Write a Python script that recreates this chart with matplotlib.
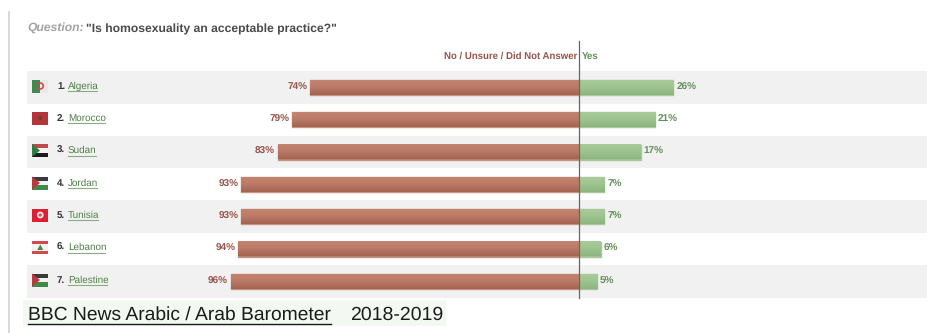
import numpy as np
import matplotlib
matplotlib.use("Agg")
import matplotlib.pyplot as plt
from matplotlib.colors import LinearSegmentedColormap
from matplotlib.patches import Rectangle, Circle, Polygon

W, H = 928, 333

countries = ["Algeria", "Morocco", "Sudan", "Jordan", "Tunisia", "Lebanon", "Palestine"]
no_values = [74, 79, 83, 93, 93, 94, 96]
yes_values = [26, 21, 17, 7, 7, 6, 5]
question_lead = "Question:"
question_text = '"Is homosexuality an acceptable practice?"'
no_header = "No / Unsure / Did Not Answer"
yes_header = "Yes"
source_text = "BBC News Arabic / Arab Barometer"
years_text = "2018-2019"

plt.rcParams["font.family"] = ["Liberation Sans", "DejaVu Sans"]
plt.rcParams["text.hinting"] = "no_hinting"

RED_DARK, GREEN_DARK = "#96544a", "#648f58"
red_map = LinearSegmentedColormap.from_list("r", ["#c4846f", "#b97a68", "#a5634f"])
green_map = LinearSegmentedColormap.from_list("g", ["#a8cb9a", "#9dc48f", "#8cb57e"])
ramp = np.linspace(0, 1, 32).reshape(-1, 1)

fig = plt.figure(figsize=(W / 100, H / 100), dpi=100, facecolor="white")

# Pixel-space layer for the page furniture, rows and flags
page = fig.add_axes([0, 0, 1, 1])
page.set_xlim(0, W)
page.set_ylim(H, 0)
page.axis("off")

row_tops = [71, 103.5, 135.5, 168, 200, 232.5, 265]
row_h = 32.5
centers = [87, 119, 151.5, 184, 216, 248.5, 281]
underline_ends = [97, 105, 96, 97, 98.5, 105, 107.5]

page.add_patch(Rectangle((8, 11), 2, H - 11, fc="#d9d9d9", ec="none"))
for i, top in enumerate(row_tops):
    if i % 2 == 0:
        page.add_patch(Rectangle((27, top), W - 27, row_h, fc="#f1f1f1", ec="none"))

FX, FW, FH = 32, 16.5, 13


def bands(cy, colors):
    h = FH / len(colors)
    for k, c in enumerate(colors):
        page.add_patch(Rectangle((FX, cy - FH / 2 + k * h), FW, h, fc=c, ec="none", zorder=3))


def flag(name, cy):
    mid = FX + FW / 2
    top = cy - FH / 2
    if name == "Algeria":
        page.add_patch(Rectangle((FX, top), FW / 2, FH, fc="#3f8a50", ec="none", zorder=3))
        page.add_patch(Rectangle((mid, top), FW / 2, FH, fc="#e9e9e9", ec="none", zorder=3))
        page.add_patch(Circle((mid, cy), 3, fc="none", ec="#cf4a50", lw=1.2, zorder=4))
    elif name == "Morocco":
        bands(cy, ["#b5343c"])
        page.add_patch(Circle((mid, cy), 2, fc="#5a4a30", ec="none", zorder=4))
    elif name == "Tunisia":
        bands(cy, ["#dc1f32"])
        page.add_patch(Circle((mid, cy), 3.4, fc="#f4e6e6", ec="none", zorder=4))
        page.add_patch(Circle((mid, cy), 1.6, fc="#dc4a55", ec="none", zorder=5))
    elif name == "Lebanon":
        page.add_patch(Rectangle((FX, top), FW, FH, fc="#f2f2f2", ec="none", zorder=3))
        page.add_patch(Rectangle((FX, top), FW, 3, fc="#d8474c", ec="none", zorder=3))
        page.add_patch(Rectangle((FX, top + FH - 3), FW, 3, fc="#d8474c", ec="none", zorder=3))
        page.add_patch(Polygon([(mid, cy - 3), (mid - 3, cy + 2.5), (mid + 3, cy + 2.5)],
                               fc="#3f8a4a", ec="none", zorder=4))
    else:
        palette = {"Sudan": ["#c04a48", "#f2f2f2", "#1c1c1c"],
                   "Jordan": ["#3a3a3a", "#f2f2f2", "#3f8a4a"],
                   "Palestine": ["#3a3a3a", "#f2f2f2", "#3f8a4a"]}[name]
        bands(cy, palette)
        wedge = "#2f7a45" if name == "Sudan" else "#b83a40"
        page.add_patch(Polygon([(FX, top), (FX, top + FH), (FX + 8, cy)], fc=wedge, ec="none", zorder=4))


for rank, (name, cy, end) in enumerate(zip(countries, centers, underline_ends), start=1):
    flag(name, cy - 1)
    page.text(57, cy - 1, f"{rank}.", fontsize=7, fontweight="bold", color="#333333", va="center", ha="left")
    page.text(68, cy - 1, name, fontsize=7.1, color="#4d7f45", va="center", ha="left")
    page.plot([68, end], [cy + 4, cy + 4], color="#8aad82", lw=0.8)

page.text(27, 29, question_lead, fontsize=8.7, fontweight="bold", fontstyle="italic",
          color="#a3a3a3", va="center", ha="left")
page.text(86, 29, question_text, fontsize=8.7, fontweight="bold", color="#4a4a4a", va="center", ha="left")
page.text(577, 56.5, no_header, fontsize=6.9, fontweight="bold", color=RED_DARK, va="center", ha="right")
page.text(582, 56.5, yes_header, fontsize=6.9, fontweight="bold", color=GREEN_DARK, va="center", ha="left")

page.add_patch(Rectangle((23, 300), 423.5, 26, fc="#f3f8f2", ec="none"))
page.text(28, 315, source_text, fontsize=13.9, color="#1c1c1c", va="center", ha="left")
page.plot([28, 331], [324, 324], color="#1c1c1c", lw=1)
page.text(350, 315, years_text, fontsize=14, color="#1c1c1c", va="center", ha="left")

# Percent-scaled axes: one unit is 3.63 px, centred on the divider at x = 579
ax = fig.add_axes([0, 0, 1, 1], facecolor="none")
xlim = (-579 / 3.63, (W - 579) / 3.63)
ax.axis("off")
bar_h = 15


def gradient_bar(left, width, cy, cmap, edge):
    ax.barh(cy, width, left=left, height=bar_h, color=cmap(0.5), edgecolor=edge,
            lw=1.0, joinstyle="round", zorder=2)
    ax.imshow(ramp, cmap=cmap, aspect="auto", zorder=3, interpolation="nearest",
              extent=(left, left + width, cy + bar_h / 2, cy - bar_h / 2))


for cy, no, yes in zip(centers, no_values, yes_values):
    gradient_bar(-no, no, cy + 0.5, red_map, "#c49484")
    gradient_bar(0, yes, cy + 0.5, green_map, "#a9c99d")
    ax.text(-no - 0.7, cy, f"{no}%", fontsize=7.2, fontweight="bold", color=RED_DARK, va="center", ha="right")
    ax.text(yes + 0.8, cy, f"{yes}%", fontsize=7.2, fontweight="bold", color=GREEN_DARK, va="center", ha="left")

ax.plot([0, 0], [41, 298], color="#666666", lw=0.9, zorder=5)
ax.set_xlim(*xlim)
ax.set_ylim(H, 0)

fig.savefig("out.png", dpi=100)
